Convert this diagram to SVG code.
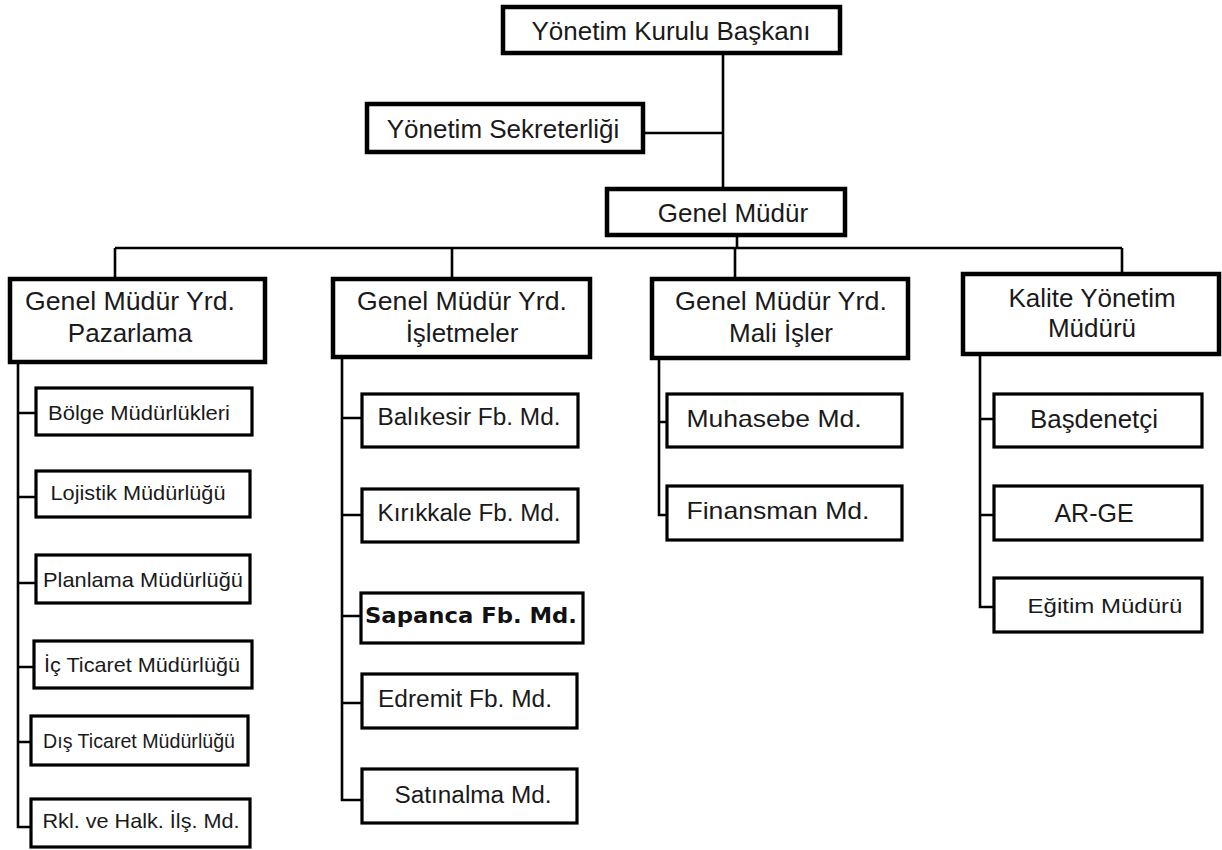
<svg xmlns="http://www.w3.org/2000/svg" width="1222" height="850" viewBox="0 0 1222 850">
<style>
.b{fill:#fff;stroke:#000;stroke-width:4.5}
.c{fill:#fff;stroke:#000;stroke-width:3.2}
.t{font-family:"Liberation Sans",Arial,sans-serif;fill:#1a1a1a;text-anchor:middle}
.m{font-size:26px}
.s{font-size:21px}
.l{stroke:#000;stroke-width:2.6;fill:none}
</style>
<rect width="1222" height="850" fill="#fff"/>
<g id="connectors">
<path class="l" d="M723 53V187M643 133H723M737 235V248M115 248H1122M115 248V277M452 248V277M735 248V277M1122 248V273"/>
<path class="l" d="M18 362V827H31M18 413H36M18 497H36M18 583H36M18 667H34M18 742H31"/>
<path class="l" d="M342 357V800H362M342 418H362M342 515H362M342 616H361M342 703H362"/>
<path class="l" d="M659 358V515H667M659 422H667"/>
<path class="l" d="M980 355V607H994M980 419H994M980 515H994"/>
</g>
<g id="n_ykb"><rect class="b" x="503" y="7" width="337" height="46"/><text class="t m" x="671" y="40">Yönetim Kurulu Başkanı</text></g>
<g id="n_ys"><rect class="b" x="367" y="104" width="276" height="48"/><text class="t m" x="503" y="138">Yönetim Sekreterliği</text></g>
<g id="n_gm"><rect class="b" x="607" y="189" width="238" height="46"/><text class="t m" x="733" y="222">Genel Müdür</text></g>
<g id="n_paz"><rect class="b" x="10" y="279" width="255" height="83"/><text class="t m" x="130" y="310" textLength="210" lengthAdjust="spacingAndGlyphs">Genel Müdür Yrd.</text><text class="t m" x="130" y="342">Pazarlama</text></g>
<g id="n_isl"><rect class="b" x="333" y="279" width="257" height="78"/><text class="t m" x="462" y="310" textLength="210" lengthAdjust="spacingAndGlyphs">Genel Müdür Yrd.</text><text class="t m" x="462" y="342">İşletmeler</text></g>
<g id="n_mal"><rect class="b" x="652" y="279" width="256" height="79"/><text class="t m" x="781" y="310" textLength="212" lengthAdjust="spacingAndGlyphs">Genel Müdür Yrd.</text><text class="t m" x="781" y="342">Mali İşler</text></g>
<g id="n_kal"><rect class="b" x="963" y="274" width="256" height="80"/><text class="t m" x="1092" y="307">Kalite Yönetim</text><text class="t m" x="1092" y="337">Müdürü</text></g>
<g id="n_bolge"><rect class="c" x="36" y="388" width="216" height="47"/><text class="t s" x="139" y="420" textLength="182" lengthAdjust="spacingAndGlyphs">Bölge Müdürlükleri</text></g>
<g id="n_loj"><rect class="c" x="36" y="471" width="214" height="46"/><text class="t s" x="138" y="500" textLength="175" lengthAdjust="spacingAndGlyphs">Lojistik Müdürlüğü</text></g>
<g id="n_plan"><rect class="c" x="36" y="555" width="214" height="48"/><text class="t s" x="143" y="587" textLength="200" lengthAdjust="spacingAndGlyphs">Planlama Müdürlüğü</text></g>
<g id="n_ic"><rect class="c" x="34" y="641" width="218" height="47"/><text class="t s" x="142" y="672" textLength="196" lengthAdjust="spacingAndGlyphs">İç Ticaret Müdürlüğü</text></g>
<g id="n_dis"><rect class="c" x="31" y="716" width="217" height="49"/><text class="t s" x="139" y="748" textLength="192" lengthAdjust="spacingAndGlyphs">Dış Ticaret Müdürlüğü</text></g>
<g id="n_rkl"><rect class="c" x="31" y="799" width="219" height="48"/><text class="t s" x="141" y="828" textLength="197" lengthAdjust="spacingAndGlyphs">Rkl. ve Halk. İlş. Md.</text></g>
<g id="n_bal"><rect class="c" x="362" y="394" width="216" height="53"/><text class="t" style="font-size:23px" x="469" y="425" textLength="183" lengthAdjust="spacingAndGlyphs">Balıkesir Fb. Md.</text></g>
<g id="n_kir"><rect class="c" x="362" y="489" width="216" height="53"/><text class="t" style="font-size:23px" x="469" y="521" textLength="183" lengthAdjust="spacingAndGlyphs">Kırıkkale Fb. Md.</text></g>
<g id="n_sap"><rect class="c" x="361" y="593" width="222" height="50"/><text x="471" y="623" style="font-family:'DejaVu Sans',Verdana,sans-serif;font-weight:bold;font-size:21px;fill:#111;text-anchor:middle" textLength="212" lengthAdjust="spacingAndGlyphs">Sapanca Fb. Md.</text></g>
<g id="n_edr"><rect class="c" x="362" y="674" width="215" height="54"/><text class="t" style="font-size:23px" x="465" y="707" textLength="174" lengthAdjust="spacingAndGlyphs">Edremit Fb. Md.</text></g>
<g id="n_sat"><rect class="c" x="362" y="769" width="215" height="54"/><text class="t" style="font-size:23px" x="473" y="803" textLength="157" lengthAdjust="spacingAndGlyphs">Satınalma Md.</text></g>
<g id="n_muh"><rect class="c" x="667" y="394" width="235" height="53"/><text class="t" style="font-size:24px" x="774" y="427" textLength="175" lengthAdjust="spacingAndGlyphs">Muhasebe Md.</text></g>
<g id="n_fin"><rect class="c" x="667" y="486" width="235" height="54"/><text class="t" style="font-size:24px" x="778" y="519" textLength="183" lengthAdjust="spacingAndGlyphs">Finansman Md.</text></g>
<g id="n_bas"><rect class="c" x="994" y="394" width="208" height="53"/><text class="t" style="font-size:25px" x="1094" y="428" textLength="128" lengthAdjust="spacingAndGlyphs">Başdenetçi</text></g>
<g id="n_arge"><rect class="c" x="994" y="486" width="208" height="54"/><text class="t" style="font-size:25px" x="1094" y="522">AR-GE</text></g>
<g id="n_egt"><rect class="c" x="994" y="578" width="208" height="54"/><text class="t s" x="1105" y="613" textLength="155" lengthAdjust="spacingAndGlyphs">Eğitim Müdürü</text></g>
</svg>
